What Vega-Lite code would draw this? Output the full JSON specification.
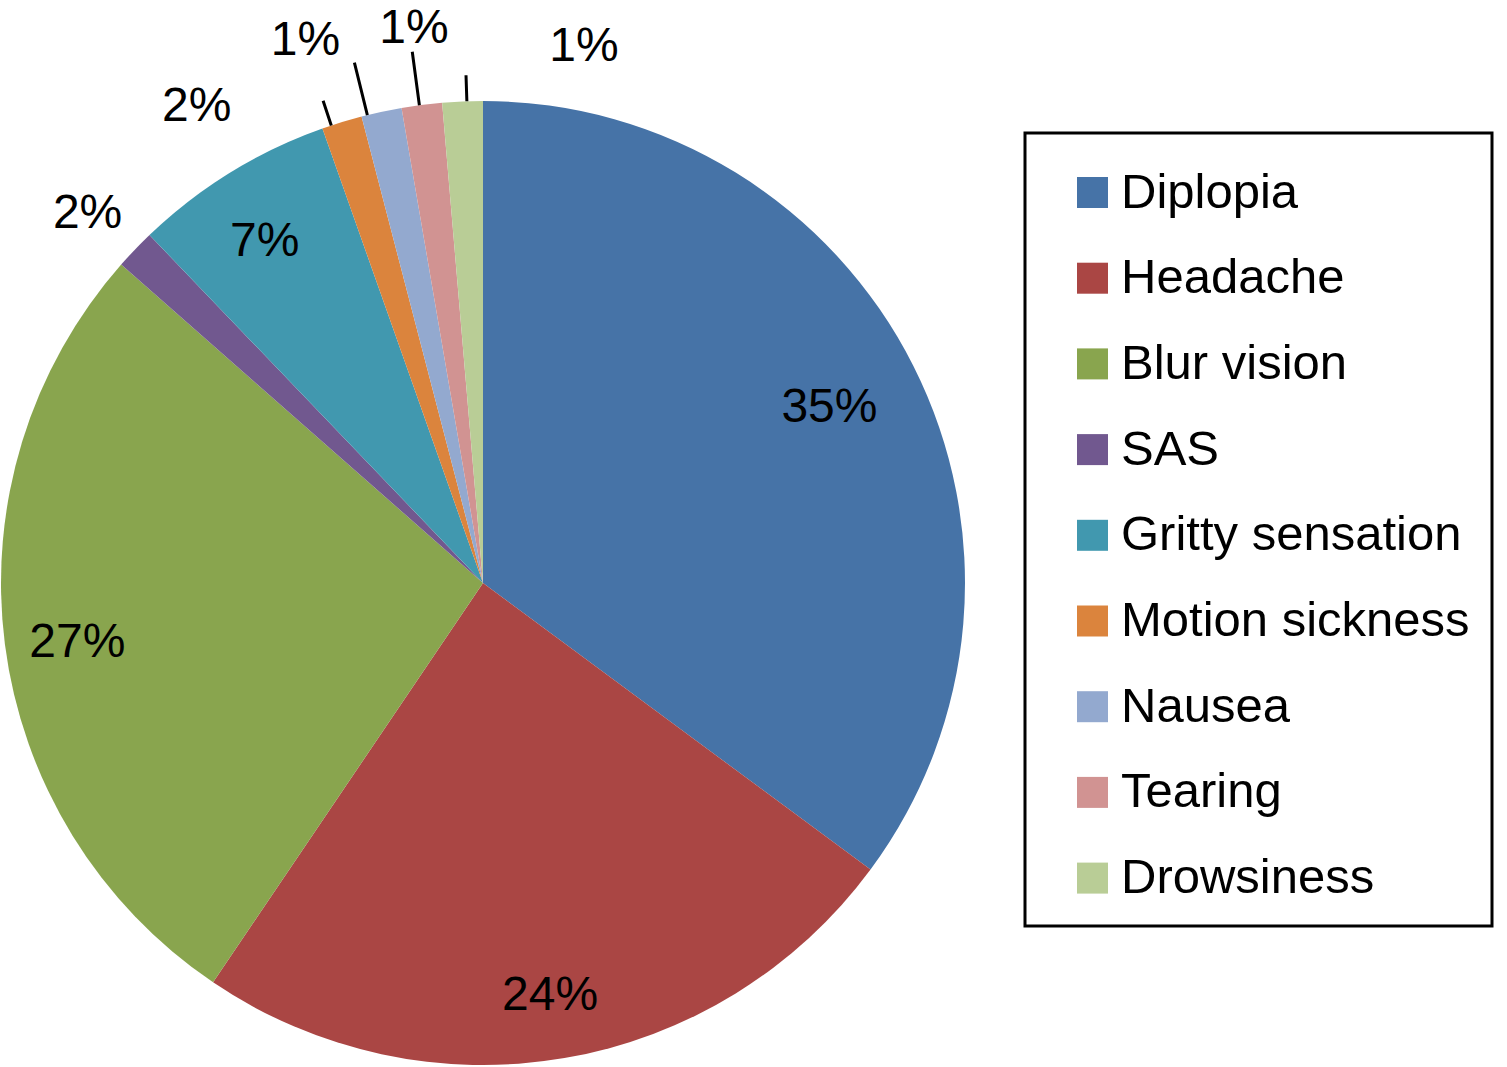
{
  "$schema": "https://vega.github.io/schema/vega-lite/v6.json",
  "width": 966,
  "height": 966,
  "autosize": {"type": "none"},
  "padding": {"left": 0, "top": 100, "right": 541, "bottom": 1},
  "background": "white",
  "config": {"view": {"stroke": null}, "font": "Liberation Sans"},
  "data": {
    "values": [
      {"symptom": "Diplopia", "count": 26, "label": "35%", "order": 1},
      {"symptom": "Headache", "count": 18, "label": "24%", "order": 2},
      {"symptom": "Blur vision", "count": 20, "label": "27%", "order": 3},
      {"symptom": "SAS", "count": 1, "label": "2%", "order": 4},
      {"symptom": "Gritty sensation", "count": 5, "label": "7%", "order": 5},
      {"symptom": "Motion sickness", "count": 1, "label": "2%", "order": 6},
      {"symptom": "Nausea", "count": 1, "label": "1%", "order": 7},
      {"symptom": "Tearing", "count": 1, "label": "1%", "order": 8},
      {"symptom": "Drowsiness", "count": 1, "label": "1%", "order": 9}
    ]
  },
  "encoding": {
    "theta": {"field": "count", "type": "quantitative", "stack": true},
    "order": {"field": "order", "type": "quantitative"}
  },
  "layer": [
    {
      "mark": {"type": "arc", "outerRadius": 482},
      "encoding": {
        "color": {
          "field": "symptom",
          "type": "nominal",
          "sort": ["Diplopia", "Headache", "Blur vision", "SAS", "Gritty sensation", "Motion sickness", "Nausea", "Tearing", "Drowsiness"],
          "scale": {
            "domain": ["Diplopia", "Headache", "Blur vision", "SAS", "Gritty sensation", "Motion sickness", "Nausea", "Tearing", "Drowsiness"],
            "range": ["#4673A7", "#AA4644", "#89A54E", "#71588F", "#4198AF", "#DB843D", "#93A9CF", "#D19392", "#B9CD96"]
          },
          "legend": {
            "title": " ",
            "titleFontSize": 9,
            "titlePadding": 4,
            "orient": "none",
            "legendX": 1025,
            "legendY": 33,
            "padding": 22,
            "strokeColor": "black",
            "fillColor": "white",
            "symbolType": "square",
            "symbolSize": 961,
            "symbolStrokeWidth": 0,
            "symbolOffset": 21,
            "labelFont": "Liberation Sans",
            "labelFontSize": 49,
            "labelColor": "black",
            "labelOffset": 4,
            "labelLimit": 600,
            "rowPadding": 35.7,
            "encode": {"legend": {"update": {"strokeWidth": {"value": 3}}}}
          }
        }
      }
    },
    {
      "mark": {"type": "arc", "radius": 508, "radius2": 482, "padAngle": 1, "thetaOffset": -0.023, "theta2Offset": -0.023, "filled": false, "stroke": "black", "strokeWidth": 3},
      "encoding": {"strokeOpacity": {"condition": {"test": "datum.symptom === 'Motion sickness'", "value": 1}, "value": 0}}
    },
    {
      "mark": {"type": "arc", "radius": 536, "radius2": 482, "padAngle": 1, "thetaOffset": -0.03, "theta2Offset": -0.03, "filled": false, "stroke": "black", "strokeWidth": 3},
      "encoding": {"strokeOpacity": {"condition": {"test": "datum.symptom === 'Nausea'", "value": 1}, "value": 0}}
    },
    {
      "mark": {"type": "arc", "radius": 536, "radius2": 482, "padAngle": 1, "thetaOffset": -0.005, "theta2Offset": -0.005, "filled": false, "stroke": "black", "strokeWidth": 3},
      "encoding": {"strokeOpacity": {"condition": {"test": "datum.symptom === 'Tearing'", "value": 1}, "value": 0}}
    },
    {
      "mark": {"type": "arc", "radius": 508, "radius2": 482, "padAngle": 1, "thetaOffset": 0.009, "theta2Offset": 0.009, "filled": false, "stroke": "black", "strokeWidth": 3},
      "encoding": {"strokeOpacity": {"condition": {"test": "datum.symptom === 'Drowsiness'", "value": 1}, "value": 0}}
    },
    {
      "mark": {"type": "text", "radius": 388, "fontSize": 48, "color": "black"},
      "encoding": {"text": {"condition": {"test": "datum.symptom === 'Diplopia'", "field": "label"}, "value": ""}}
    },
    {
      "mark": {"type": "text", "radius": 415, "dx": -3, "dy": 4, "fontSize": 48, "color": "black"},
      "encoding": {"text": {"condition": {"test": "datum.symptom === 'Headache'", "field": "label"}, "value": ""}}
    },
    {
      "mark": {"type": "text", "radius": 409, "dy": 8, "fontSize": 48, "color": "black"},
      "encoding": {"text": {"condition": {"test": "datum.symptom === 'Blur vision'", "field": "label"}, "value": ""}}
    },
    {
      "mark": {"type": "text", "radius": 405, "dx": -6, "dy": 4, "fontSize": 48, "color": "black"},
      "encoding": {"text": {"condition": {"test": "datum.symptom === 'Gritty sensation'", "field": "label"}, "value": ""}}
    },
    {
      "mark": {"type": "text", "radius": 520, "dx": -20, "dy": -9, "fontSize": 48, "color": "black"},
      "encoding": {"text": {"condition": {"test": "datum.symptom === 'SAS'", "field": "label"}, "value": ""}}
    },
    {
      "mark": {"type": "text", "radius": 520, "dx": -134, "dy": 21, "fontSize": 48, "color": "black"},
      "encoding": {"text": {"condition": {"test": "datum.symptom === 'Motion sickness'", "field": "label"}, "value": ""}}
    },
    {
      "mark": {"type": "text", "radius": 520, "dx": -68, "dy": -34, "fontSize": 48, "color": "black"},
      "encoding": {"text": {"condition": {"test": "datum.symptom === 'Nausea'", "field": "label"}, "value": ""}}
    },
    {
      "mark": {"type": "text", "radius": 520, "dx": -3, "dy": -38, "fontSize": 48, "color": "black"},
      "encoding": {"text": {"condition": {"test": "datum.symptom === 'Tearing'", "field": "label"}, "value": ""}}
    },
    {
      "mark": {"type": "text", "radius": 520, "dx": 123, "dy": -16, "fontSize": 48, "color": "black"},
      "encoding": {"text": {"condition": {"test": "datum.symptom === 'Drowsiness'", "field": "label"}, "value": ""}}
    }
  ]
}
